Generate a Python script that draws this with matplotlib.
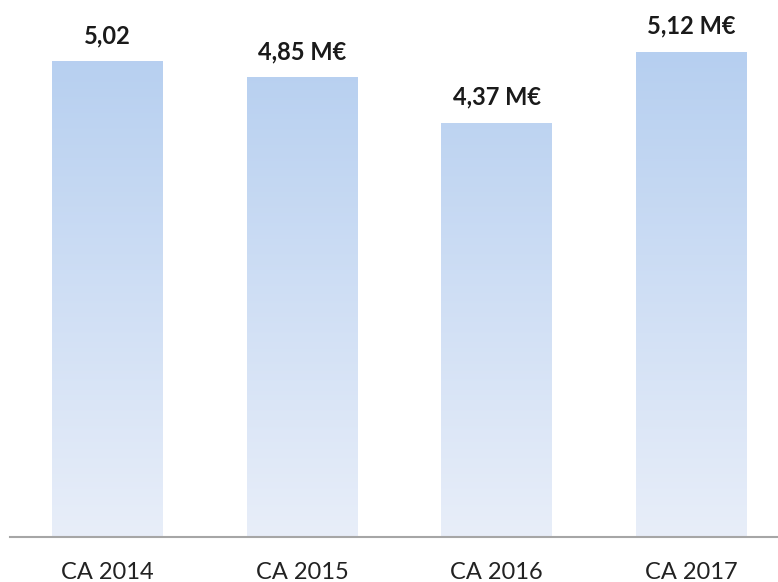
import matplotlib
matplotlib.use("Agg")
import matplotlib.pyplot as plt
import numpy as np
from matplotlib.colors import LinearSegmentedColormap

categories = ["CA 2014", "CA 2015", "CA 2016", "CA 2017"]
values = [5.02, 4.85, 4.37, 5.12]
labels = ["5,02", "4,85 M€", "4,37 M€", "5,12 M€"]

plt.rcParams['font.family'] = ['Lato', 'DejaVu Sans']

fig = plt.figure(figsize=(7.78, 5.82), dpi=100)
ax = fig.add_axes([10 / 778, 45 / 582, 768 / 778, 537 / 582])

cmap = LinearSegmentedColormap.from_list("grad", ["#E8EEF9", "#B6CFF0"])
x = np.arange(len(categories))
bars = ax.bar(x, values, width=0.57, color="none", edgecolor="none")

grad = np.linspace(0, 1, 256).reshape(-1, 1)
for b in bars:
    x0, y0 = b.get_x(), b.get_y()
    w, h = b.get_width(), b.get_height()
    # gradient from light (bottom) to blue (top), relative to the tallest bar
    top = h / max(values)
    im = ax.imshow(grad[: int(256 * top)], extent=[x0, x0 + w, y0, y0 + h],
                   origin="lower", aspect="auto", cmap=cmap, vmin=0, vmax=1,
                   zorder=2)
    im.set_clip_path(b)

for xi, v, lab in zip(x, values, labels):
    ax.annotate(lab, (xi, v), xytext=(0, 10), textcoords="offset points",
                ha="center", va="bottom", fontsize=17, fontweight="bold",
                color="#1a1a1a")

ax.set_xlim(-0.5008, 3.444)
ax.set_ylim(0, 5.665)
ax.set_xticks(x)
ax.set_xticklabels(categories, fontsize=17, color="#222222")
ax.tick_params(axis="x", length=0, pad=18)
ax.set_yticks([])
for s in ["top", "right", "left"]:
    ax.spines[s].set_visible(False)
ax.spines["bottom"].set_color("#A6A6A6")
ax.spines["bottom"].set_linewidth(1.5)

fig.savefig("out.png", dpi=100)
